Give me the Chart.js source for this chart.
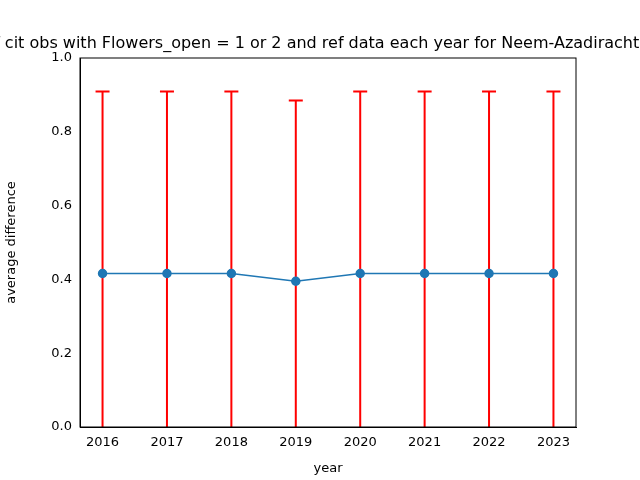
<!DOCTYPE html>
<html><head><script src="https://cdn.jsdelivr.net/npm/chart.js@4"></script>
<style>body{margin:0}canvas{display:block}</style></head><body>
<canvas id="c" width="640" height="480"></canvas>
<script>
const years=[2016,2017,2018,2019,2020,2021,2022,2023];
const avgDiff=[0.416,0.416,0.416,0.395,0.416,0.416,0.416,0.416];
const errUpper=[0.909,0.909,0.909,0.885,0.909,0.909,0.909,0.909];
const errLower=[-0.077,-0.077,-0.077,-0.095,-0.077,-0.077,-0.077,-0.077];
const titleText='pct of cit obs with Flowers_open = 1 or 2 and ref data each year for Neem-Azadirachta indica';
const F='"DejaVu Sans"';
const plug={id:'p',
beforeDatasetsDraw(ch){const c=ch.ctx,a=ch.chartArea,x=ch.scales.x,y=ch.scales.y;
 c.save();c.beginPath();c.rect(a.left,a.top,a.width,a.height);c.clip();
 c.strokeStyle='red';c.lineWidth=2;
 years.forEach((yr,i)=>{const px=x.getPixelForValue(yr),t=y.getPixelForValue(errUpper[i]),b=y.getPixelForValue(errLower[i]);
  c.beginPath();c.moveTo(px,t);c.lineTo(px,b);c.moveTo(px-7,t);c.lineTo(px+7,t);c.moveTo(px-7,b);c.lineTo(px+7,b);c.stroke();});
 c.restore();},
afterDraw(ch){const c=ch.ctx,a=ch.chartArea;c.save();c.strokeStyle='#000';c.lineWidth=1;
 c.strokeRect(a.left,a.top,a.width,a.height);
 c.fillStyle='#000';c.font='16px '+F;c.textAlign='center';c.textBaseline='alphabetic';
 c.fillText(titleText,(a.left+a.right)/2,48);c.restore();}};
new Chart(document.getElementById('c'),{type:'line',
data:{datasets:[{data:years.map((y,i)=>({x:y,y:avgDiff[i]})),borderColor:'#1f77b4',backgroundColor:'#1f77b4',pointRadius:4,pointHoverRadius:4,borderWidth:1.5,clip:false}]},
options:{responsive:false,animation:false,devicePixelRatio:1,
layout:{padding:{top:58,right:64,left:0,bottom:0}},
plugins:{legend:{display:false},tooltip:{enabled:false}},
scales:{
x:{type:'linear',min:2015.65,max:2023.35,afterBuildTicks(s){s.ticks=years.map(v=>({value:v}));},
 ticks:{color:'#000',font:{family:F,size:13},callback:v=>String(v),maxRotation:0,autoSkip:false},
 grid:{display:false,drawTicks:true,tickLength:5,tickColor:'#000'},border:{color:'#000'},
 title:{display:true,text:'year',color:'#000',font:{family:F,size:13},padding:{top:2}},
 afterFit(s){s.height=53;}},
y:{min:0,max:1,ticks:{stepSize:0.2,color:'#000',font:{family:F,size:13},callback:v=>v.toFixed(1),autoSkip:false},
 grid:{display:false,drawTicks:true,tickLength:5,tickColor:'#000'},border:{color:'#000'},
 title:{display:true,text:'average difference',color:'#000',font:{family:F,size:13}},
 afterFit(s){s.width=80;}}}},
plugins:[plug]});
</script></body></html>
